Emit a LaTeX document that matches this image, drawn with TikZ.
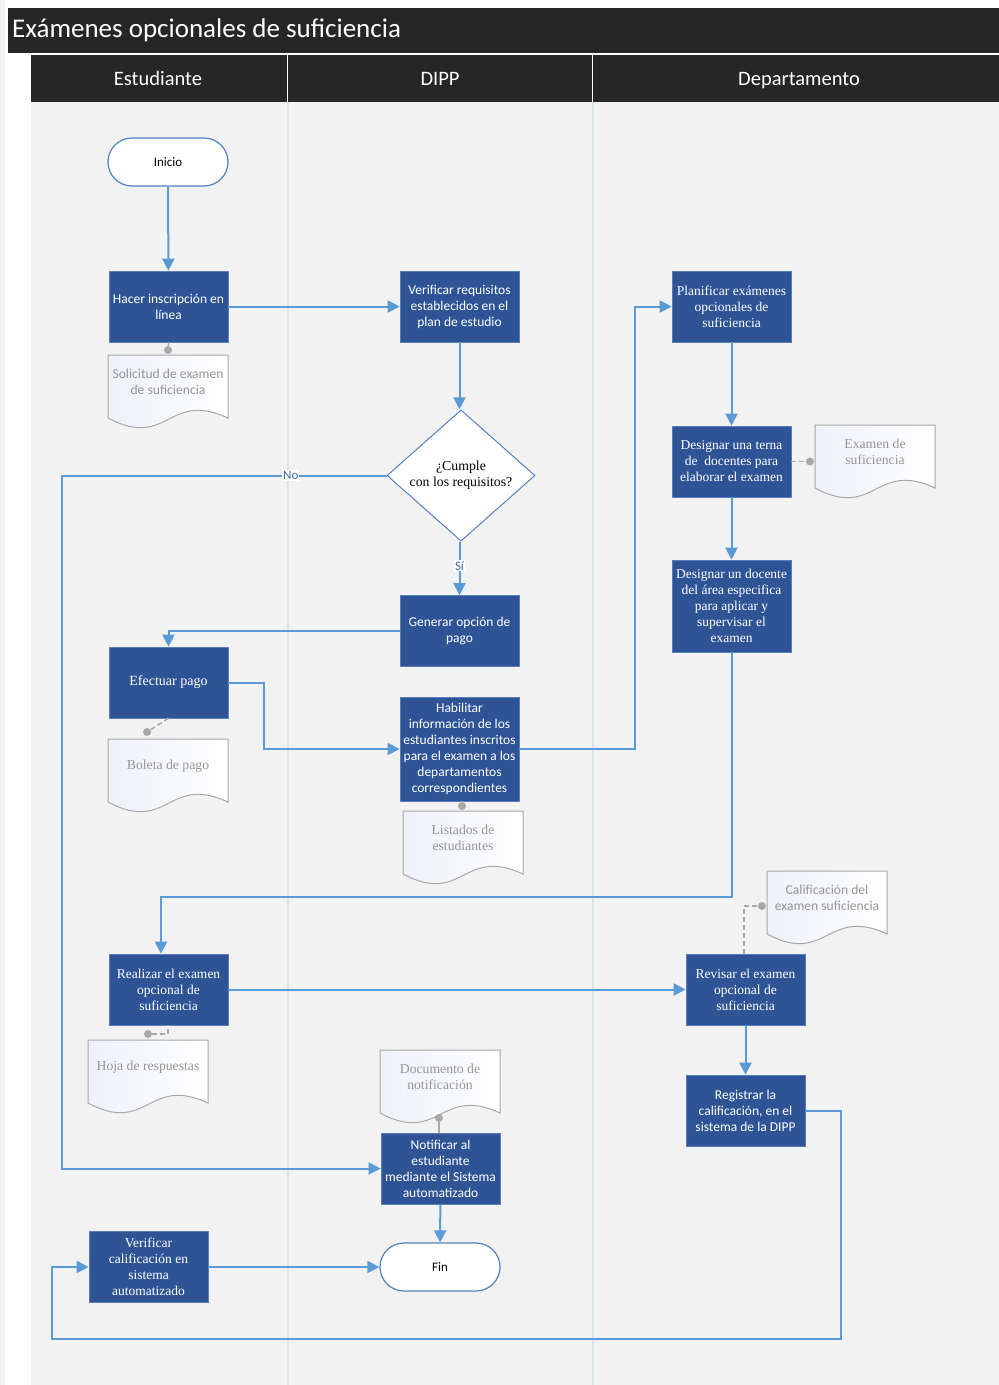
\documentclass[tikz,border=0pt]{standalone}
\usepackage{fontspec}
\setmainfont{Liberation Serif}
\newfontfamily\calfont{Carlito}
\usetikzlibrary{arrows.meta,shapes.geometric}
\definecolor{boxblue}{RGB}{47,84,150}
\definecolor{boxedge}{RGB}{90,125,190}
\definecolor{linkblue}{RGB}{91,155,213}
\definecolor{hdr}{RGB}{38,38,38}
\definecolor{lanebg}{RGB}{242,242,242}
\definecolor{lanesep}{RGB}{218,228,240}
\definecolor{docgray}{RGB}{168,168,168}
\definecolor{doctxt}{RGB}{150,150,150}
\definecolor{docshade}{RGB}{238,241,248}
\definecolor{stadline}{RGB}{84,130,190}
\definecolor{labblue}{RGB}{60,110,170}
\newcommand\sansbox{\calfont\fontsize{13.5}{16}\selectfont}
\newcommand\serifbox{\fontsize{13.5}{16}\selectfont}
\newcommand\sansdoc{\calfont\fontsize{13.6}{16}\selectfont}
\newcommand\serifdoc{\fontsize{13.7}{16}\selectfont}
\newcommand\docshape[5]{%
  \path[draw=docgray, line width=1, left color=docshade, right color=white]
    (#2,#3) -- ({#2+120},#3) -- ({#2+120},{#3+63})
    .. controls ({#2+60},{#3+35}) and ({#2+60},{#3+95}) .. (#2,{#3+63}) -- cycle;
  \node[doclabel,font=#4] (#1) at ({#2+60},{#3+27}) {#5};
}
\begin{document}
\begin{tikzpicture}[x=1pt,y=-1pt,
  procbox/.style={draw=boxedge, line width=0.6, fill=boxblue, text=white,
    minimum width=119, minimum height=71, inner sep=1, align=center},
  stadium/.style={draw=stadline, line width=1.2, fill=white, rounded corners=24,
    minimum width=120, minimum height=48, font=\calfont\fontsize{13}{15}\selectfont},
  decision/.style={diamond, draw=stadline, line width=1, fill=white, inner sep=0,
    minimum width=148, minimum height=125, align=center, font=\fontsize{13.8}{16}\selectfont},
  doclabel/.style={text=doctxt, align=center, inner sep=0},
  link/.style={draw=linkblue, line width=2, -{Triangle[width=12,length=12]}},
  attach/.style={draw=docgray, line width=1.5},
  attachdash/.style={draw=docgray, line width=1.5, dash pattern=on 5 off 3},
  dotmark/.style={circle, fill=docgray, inner sep=0, minimum size=8},
  lab/.style={font=\calfont\fontsize{13}{15}\selectfont, text=labblue, fill=white, inner sep=1},
  lanehead/.style={text=white, font=\calfont\fontsize{20.5}{22}\selectfont, text height=14, text depth=4}
]
\useasboundingbox (0,0) rectangle (999,1385);
% background
\fill[white] (0,0) rectangle (999,1385);
\fill[lanebg] (0,0) rectangle (5,1385);
\fill[lanebg] (31,102) rectangle (999,1385);
\draw[lanesep, line width=1.5] (288,102) -- (288,1385);
\draw[lanesep, line width=1.5] (593,102) -- (593,1385);
% title
\fill[hdr] (8,8) rectangle (999,53);
\node[anchor=west, text=white, font=\calfont\fontsize{27}{30}\selectfont, inner sep=0] (title) at (12,30) {Exámenes opcionales de suficiencia};
% lane header
\fill[hdr] (31,55) rectangle (999,102);
\draw[white, line width=1.2] (287.5,55) -- (287.5,102);
\draw[white, line width=1.2] (592.5,55) -- (592.5,102);
\node[lanehead] (h1) at (158,80) {Estudiante};
\node[lanehead] (h2) at (440,80) {DIPP};
\node[lanehead] (h3) at (799,80) {Departamento};

% nodes
\node[stadium] (ini) at (168,162) {Inicio};
\node[procbox,font=\sansbox] (hacer) at (168.5,306.5) {Hacer inscripción en\\línea};
\node[procbox,font=\sansbox] (vreq) at (459.5,306.5) {Verificar requisitos\\establecidos en el\\plan de estudio};
\node[decision] (dec) at (461,475.5) {¿Cumple\\con los requisitos?};
\node[procbox,font=\sansbox] (gen) at (459.5,631) {Generar opción de\\pago};
\node[procbox,font=\fontsize{14}{16}\selectfont] (efec) at (168.5,682.5) {Efectuar pago};
\node[procbox,font=\sansbox,minimum height=104] (hab) at (459.5,749) {Habilitar\\información de los\\estudiantes inscritos\\para el examen a los\\departamentos\\correspondientes};
\node[procbox,font=\serifbox] (plan) at (731.5,306.5) {Planificar exámenes\\opcionales de\\suficiencia};
\node[procbox,font=\serifbox] (terna) at (731.5,461.5) {Designar una terna\\de\ \ docentes para\\elaborar el examen};
\node[procbox,font=\serifbox,minimum height=92] (ddoc) at (731.5,606) {Designar un docente\\del área especifica\\para aplicar y\\supervisar el\\examen};
\node[procbox,font=\serifbox] (real) at (168.5,989.5) {Realizar el examen\\opcional de\\suficiencia};
\node[procbox,font=\serifbox] (rev) at (745.5,989.5) {Revisar el examen\\opcional de\\suficiencia};
\node[procbox,font=\sansbox] (reg) at (745.5,1110.5) {Registrar la\\calificación, en el\\sistema de la DIPP};
\node[procbox,font=\sansbox] (notif) at (440.5,1168.5) {Notificar al\\estudiante\\mediante el Sistema\\automatizado};
\node[procbox,font=\serifbox] (verif) at (148.5,1267) {Verificar\\calificación en\\sistema\\automatizado};
\node[stadium] (fin) at (440,1267) {Fin};

% documents
\docshape{dsol}{108}{355}{\sansdoc}{Solicitud de examen\\de suficiencia}
\docshape{dbol}{108}{739}{\serifdoc}{Boleta de pago}
\docshape{dlis}{403}{811}{\serifdoc}{Listados de\\estudiantes}
\docshape{dexa}{815}{425}{\serifdoc}{Examen de\\suficiencia}
\docshape{dcal}{767}{871}{\sansdoc}{Calificación del\\examen suficiencia}
\docshape{dhoj}{88}{1040}{\serifdoc}{Hoja de respuestas}
\docshape{ddocu}{380}{1050}{\serifdoc}{Documento de\\notificación}

% attachments
\node[dotmark] (p1) at (168,350) {};
\draw[attach] (hacer.south) -- (p1);
\node[dotmark] (p2) at (147,732) {};
\draw[attachdash] (efec.south) -- (p2);
\node[dotmark] (p3) at (462,806) {};
\draw[attach] (hab.south -| p3) -- (p3);
\node[dotmark] (p4) at (810,461.5) {};
\draw[attachdash] (terna.east) -- (p4);
\node[dotmark] (p5) at (148,1034) {};
\draw[attachdash] (p5) -| (168,1025);
\node[dotmark] (p6) at (762,906) {};
\draw[attachdash] ([xshift=-1.5]rev.north) |- (p6);
\node[dotmark] (p7) at (439,1118) {};
\draw[attach] (p7) -- (notif.north -| p7);

% connectors
\draw[link] (ini) -- (hacer);
\draw[link] (hacer) -- (vreq);
\draw[link] (vreq) -- (dec.north -| vreq);
\draw[link] (dec.west) -- node[lab, pos=0.295] {No} (62,475.5) |- (notif.west);
\draw[link] (dec.south -| vreq) -- node[lab, pos=0.45] {Sí} (gen);
\draw[link] (gen.west) -| (efec.north);
\draw[link] (efec.east) -- (264,682.5) |- (hab.west);
\draw[link] (hab.east) -- (635,749) |- (plan.west);
\draw[link] (plan) -- (terna);
\draw[link] (terna) -- (ddoc);
\draw[link] (ddoc.south) -- (731.5,897) -| ([xshift=-7.5]real.north);
\draw[link] (real) -- (rev);
\draw[link] (rev) -- (reg);
\draw[link] (reg.east) -- (841,1110.5) -- (841,1339) -- (52,1339) |- (verif.west);
\draw[link] (verif) -- (fin);
\draw[link] (notif) -- (fin);
\end{tikzpicture}
\end{document}
